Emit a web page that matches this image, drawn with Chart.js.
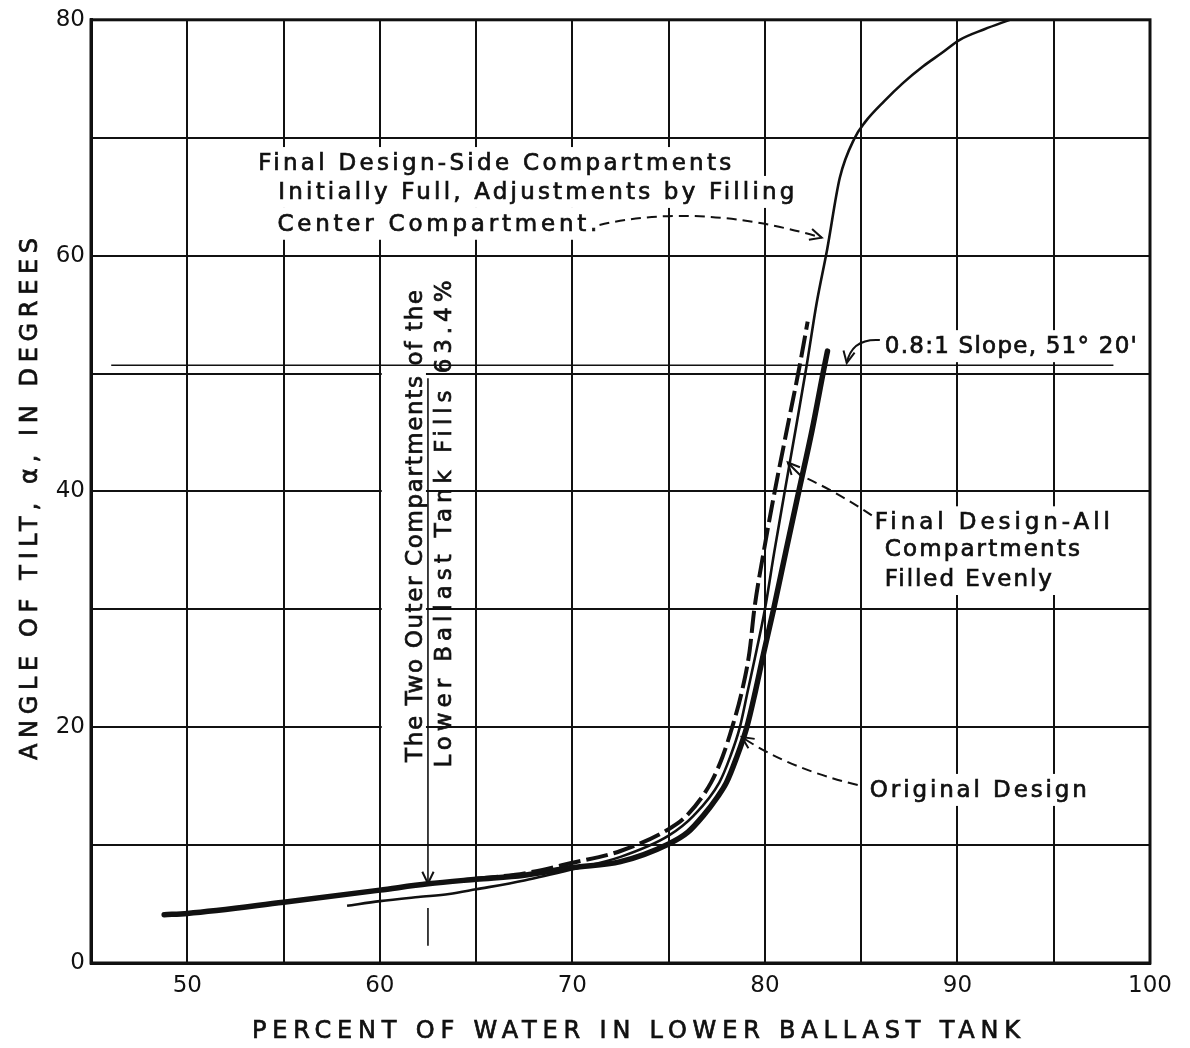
<!DOCTYPE html>
<html>
<head>
<meta charset="utf-8">
<script src="https://cdn.jsdelivr.net/npm/chart.js@4.4.1/dist/chart.umd.min.js"></script>
<style>
  html, body { margin: 0; padding: 0; background: #fff; }
  #wrap { width: 1190px; height: 1048px; }
</style>
</head>
<body>
<div id="wrap"><canvas id="chart" width="1190" height="1048"></canvas></div>
<script>
// values: percent of water -> angle of tilt (degrees)
const originalX = [48.8, 50, 55, 60, 62.5, 65, 67.5, 70, 72.5, 75, 76, 76.8, 77.5, 78, 78.5, 79.06, 79.5, 79.95, 80.45, 81.1, 81.76, 82.45, 83.1, 83.25];
const originalY = [4.1, 4.2, 5.15, 6.18, 6.72, 7.1, 7.45, 8.1, 8.6, 10.1, 11.1, 12.5, 14.0, 15.3, 17.3, 20, 23, 26.4, 30, 35, 40, 45.2, 50.7, 51.9];

const sideX = [58.3, 60, 62, 63.6, 65, 67.5, 70, 72.5, 75, 76.3, 77.63, 78.2, 78.7, 79.1, 79.55, 80.0, 80.5, 81.03, 81.6, 82.17, 82.69, 83.23, 83.89, 84.67, 85.19, 86.2, 87.18, 88.22, 89.2, 90.12, 91.4, 92.72];
const sideY = [4.85, 5.25, 5.6, 5.85, 6.25, 7.0, 7.95, 9.0, 10.8, 12.5, 15.3, 17.5, 20, 23, 26.4, 30, 35, 40, 45.3, 50.7, 56, 60.5, 66.6, 70.0, 71.3, 73.1, 74.65, 76.06, 77.2, 78.3, 79.2, 80];

const evenX = [65, 66, 67.5, 70, 72.5, 75, 75.94, 77.2, 77.8, 78.3, 78.8, 79.2, 79.45, 79.95, 80.51, 81.15, 81.81, 82.22];
const evenY = [7.15, 7.3, 7.6, 8.5, 9.5, 11.35, 12.5, 15.3, 17.5, 20, 23, 26.4, 30, 35, 40, 45.3, 50.7, 54.4];

const slopeX = [46.05, 98.1];
const slopeY = [50.7, 50.7];

const markX = [62.5, 62.5];
const markY = [49.6, 6.75];
const markTickX = [62.5, 62.5];
const markTickY = [4.67, 1.46];

const xLabels = [50, 60, 70, 80, 90, 100];
const yLabels = [0, 20, 40, 60, 80];

const FONT = '"DejaVu Sans", sans-serif';
const INK = '#111';

// annotation texts (left edge / centre in axis units, width in px)
const notes = [
  { text: 'Final Design-Side Compartments', x: 53.69, y: 67.85, w: 473 },
  { text: 'Initially Full, Adjustments by Filling', x: 54.73, y: 65.4, w: 516 },
  { text: 'Center Compartment.', x: 54.68, y: 62.7, w: 320 },
  { text: "0.8:1 Slope, 51\u00b0 20'", x: 86.23, y: 52.32, w: 252 },
  { text: 'Final Design-All', x: 85.71, y: 37.38, w: 235 },
  { text: 'Compartments', x: 86.23, y: 35.1, w: 195 },
  { text: 'Filled Evenly', x: 86.23, y: 32.57, w: 167 },
  { text: 'Original Design', x: 85.45, y: 14.68, w: 217 }
];

const leaders = [
  { from: [71.41, 62.6], ctrl: [76.61, 64.56], to: [82.95, 61.52], dash: true, arrow: true },
  { from: [85.97, 52.84], ctrl: [84.51, 53.0], to: [84.25, 50.89], dash: false, arrow: true },
  { from: [85.55, 37.97], ctrl: [83.7, 40.0], to: [81.85, 41.35], dash: true, arrow: false },
  { from: [81.85, 41.35], ctrl: [81.5, 41.9], to: [81.19, 42.45], dash: false, arrow: true },
  { from: [84.82, 15.1], ctrl: [81.29, 16.46], to: [78.8, 19.16], dash: true, arrow: true }
];

const pts = (xs, ys) => xs.map((x, i) => ({ x: x, y: ys[i] }));

function fitSpacing(ctx, text, width) {
  ctx.letterSpacing = '0px';
  const w = ctx.measureText(text).width;
  const sp = Math.max(0, (width - w) / Math.max(1, text.length - 1));
  ctx.letterSpacing = sp + 'px';
  return sp;
}

// lettering pen is a little heavier than the font
function inkText(ctx, text, x, y) {
  ctx.fillText(text, x, y);
  ctx.lineWidth = 0.7;
  ctx.strokeText(text, x, y);
}

function arrowHead(ctx, x0, y0, x1, y1, len) {
  const a = Math.atan2(y1 - y0, x1 - x0);
  ctx.beginPath();
  ctx.moveTo(x1 - len * Math.cos(a - 0.45), y1 - len * Math.sin(a - 0.45));
  ctx.lineTo(x1, y1);
  ctx.lineTo(x1 - len * Math.cos(a + 0.45), y1 - len * Math.sin(a + 0.45));
  ctx.stroke();
}

const notesPlugin = {
  id: 'notes',
  beforeDatasetsDraw(chart) {
    const ctx = chart.ctx;
    const xs = chart.scales.x, ys = chart.scales.y;
    ctx.save();
    ctx.font = '23px ' + FONT;
    ctx.textBaseline = 'middle';
    ctx.textAlign = 'left';
    ctx.fillStyle = INK;
    ctx.strokeStyle = INK;
    // white ground behind the lettering, as on the drawing
    notes.forEach(n => {
      const left = xs.getPixelForValue(n.x), cy = ys.getPixelForValue(n.y);
      ctx.fillStyle = '#fff';
      ctx.fillRect(left - 5, cy - 16, n.w + 10, 32);
    });
    ctx.fillStyle = INK;
    notes.forEach(n => {
      const left = xs.getPixelForValue(n.x), cy = ys.getPixelForValue(n.y);
      fitSpacing(ctx, n.text, n.w);
      inkText(ctx, n.text, left, cy + 1);
    });

    // vertical note next to the 63.4 % marker
    const lx = xs.getPixelForValue(61.85), rx = xs.getPixelForValue(63.36);
    const sepX = xs.getPixelForValue(markX[0]);
    const boxL = xs.getPixelForValue(60.1);
    ctx.fillStyle = '#fff';
    ctx.fillRect(boxL, 280, sepX - 2 - boxL, 492);
    ctx.fillStyle = INK;
    [['The Two Outer Compartments of the', lx, 526, 472], ['Lower Ballast Tank Fills 63.4%', rx, 524, 487]].forEach(t => {
      ctx.save();
      ctx.translate(t[1], t[2]);
      ctx.rotate(-Math.PI / 2);
      ctx.textAlign = 'center';
      const sp = fitSpacing(ctx, t[0], t[3]);
      inkText(ctx, t[0], sp / 2, 1);
      ctx.restore();
    });

    // leaders
    ctx.letterSpacing = '0px';
    ctx.lineWidth = 2;
    leaders.forEach(l => {
      const x0 = xs.getPixelForValue(l.from[0]), y0 = ys.getPixelForValue(l.from[1]);
      const cx = xs.getPixelForValue(l.ctrl[0]), cy = ys.getPixelForValue(l.ctrl[1]);
      const x1 = xs.getPixelForValue(l.to[0]), y1 = ys.getPixelForValue(l.to[1]);
      ctx.setLineDash(l.dash ? [10, 6] : []);
      ctx.beginPath();
      ctx.moveTo(x0, y0);
      ctx.quadraticCurveTo(cx, cy, x1, y1);
      ctx.stroke();
      ctx.setLineDash([]);
      if (l.arrow) arrowHead(ctx, cx, cy, x1, y1, 13);
    });
    ctx.restore();
  },
  afterDatasetsDraw(chart) {
    const ctx = chart.ctx;
    const xs = chart.scales.x, ys = chart.scales.y;
    ctx.save();
    ctx.strokeStyle = INK;
    ctx.lineWidth = 2;
    arrowHead(ctx, xs.getPixelForValue(markX[0]), ys.getPixelForValue(markY[0]),
      xs.getPixelForValue(markX[1]), ys.getPixelForValue(markY[1]), 13);
    ctx.restore();
  },
  afterDraw(chart) {
    const ctx = chart.ctx;
    const a = chart.chartArea;
    ctx.save();
    ctx.strokeStyle = INK;
    ctx.lineWidth = 3;
    ctx.strokeRect(a.left, a.top, a.right - a.left, a.bottom - a.top);

    ctx.fillStyle = INK;
    ctx.font = '24px ' + FONT;
    ctx.textBaseline = 'middle';
    ctx.textAlign = 'left';
    const xt = 'PERCENT OF WATER IN LOWER BALLAST TANK';
    fitSpacing(ctx, xt, 768);
    inkText(ctx, xt, 252, 1032);

    const yt = 'ANGLE OF TILT, \u03b1, IN DEGREES';
    ctx.translate(31, 760);
    ctx.rotate(-Math.PI / 2);
    fitSpacing(ctx, yt, 522);
    inkText(ctx, yt, 0, 0);
    ctx.restore();
  }
};

const line = (data, width, extra) => Object.assign({
  data: data,
  showLine: true,
  borderColor: INK,
  backgroundColor: 'transparent',
  borderWidth: width,
  pointRadius: 0,
  fill: false,
  cubicInterpolationMode: 'monotone'
}, extra || {});

new Chart(document.getElementById('chart'), {
  type: 'scatter',
  data: {
    datasets: [
      line(pts(slopeX, slopeY), 1.6, { label: 'Slope 0.8:1', cubicInterpolationMode: 'default' }),
      line(pts(markX, markY), 1.6, { label: '63.4 %', cubicInterpolationMode: 'default' }),
      line(pts(markTickX, markTickY), 1.6, { label: '63.4 % tick', cubicInterpolationMode: 'default' }),
      line(pts(sideX, sideY), 2.6, { label: 'Final Design - Side Compartments Initially Full' }),
      line(pts(evenX, evenY), 4, { label: 'Final Design - All Compartments Filled Evenly', borderDash: [22, 6] }),
      line(pts(originalX, originalY), 5.5, { label: 'Original Design', borderCapStyle: 'round' })
    ]
  },
  options: {
    responsive: false,
    animation: false,
    devicePixelRatio: 1,
    layout: { padding: { top: 15, right: 40, bottom: 0, left: 0 } },
    plugins: {
      legend: { display: false },
      tooltip: { enabled: false }
    },
    scales: {
      x: {
        type: 'linear',
        min: 45,
        max: 100,
        afterFit(scale) { scale.height = 85; },
        ticks: {
          stepSize: 5,
          autoSkip: false,
          maxRotation: 0,
          padding: 9,
          color: INK,
          font: { family: FONT, size: 23 },
          callback: v => xLabels.includes(v) ? String(v) : ''
        },
        grid: { color: INK, lineWidth: 2, drawTicks: false },
        border: { color: INK, width: 3 }
      },
      y: {
        type: 'linear',
        min: 0,
        max: 80,
        afterFit(scale) { scale.width = 91; },
        ticks: {
          stepSize: 10,
          autoSkip: false,
          padding: 6,
          color: INK,
          font: { family: FONT, size: 23 },
          callback: v => yLabels.includes(v) ? String(v) : ''
        },
        grid: { color: INK, lineWidth: 2, drawTicks: false },
        border: { color: INK, width: 3 }
      }
    }
  },
  plugins: [notesPlugin]
});
</script>
</body>
</html>
